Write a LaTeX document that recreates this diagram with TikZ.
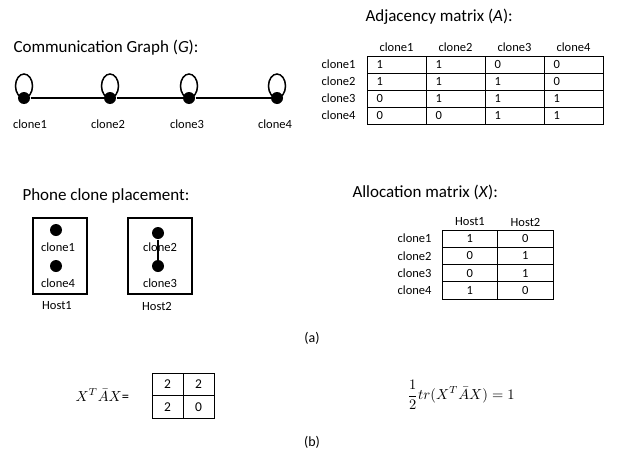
\documentclass[tikz,border=0pt]{standalone}
\usepackage{amsmath}
\usepackage{graphicx}
\usepackage{fontspec}
\setmainfont{Carlito}

\tikzset{
  clonedot/.style={circle,fill=black,inner sep=0pt,minimum size=12pt},
  smalltext/.style={font=\fontsize{12.5}{14}\selectfont,inner sep=0pt},
  heading/.style={font=\fontsize{17}{20}\selectfont,anchor=west,inner sep=0pt},
  mathtext/.style={font=\normalsize,anchor=west,inner sep=0pt},
  adjcell/.style={draw,smalltext,minimum height=17pt,text width=40pt,inner xsep=9.5pt,align=left},
  alloccell/.style={draw,smalltext,minimum width=55.5pt,minimum height=17.25pt},
  prodcell/.style={draw,font=\fontsize{13.5}{15}\selectfont,minimum width=31pt,minimum height=22.5pt,inner sep=0pt},
  hostbox/.style={draw,line width=1.3pt,minimum height=76pt}
}

\begin{document}
\begin{tikzpicture}[x=1pt,y=-1pt,line width=1pt]
\useasboundingbox (0,0) rectangle (618,455);

\node[heading] (gtitle) at (13,48) {Communication Graph (\textit{G}):};
\foreach \i/\x/\lx in {1/24/30,2/110/108,3/189/187,4/277/275} {
  \node[clonedot] (g\i) at (\x,98) {};
  \draw[line width=1.5pt] ([yshift=12pt]g\i.center) ellipse [x radius=8.5, y radius=12];
  \node[smalltext] (gl\i) at (\lx,124) {clone\i};
}
\draw[line width=1.3pt] (g1) -- (g2) -- (g3) -- (g4);

\node[heading] (atitle) at (365,17) {Adjacency matrix (\textit{A}):};
\foreach \c in {1,...,4}
  \node[smalltext] (ah\c) at ({396.5+59*(\c-1)},47) {clone\c};
\foreach [count=\r] \row in {{1,1,0,0},{1,1,1,0},{0,1,1,1},{0,0,1,1}} {
  \node[smalltext,anchor=east] (ar\r) at (356,{56+17*(\r-0.5)}) {clone\r};
  \foreach [count=\c] \v in \row
    \node[adjcell] (a\r\c) at ({396.5+59*(\c-1)},{56+17*(\r-0.5)}) {\v};
}

\node[heading] (ptitle) at (22,196) {Phone clone placement:};
\node[hostbox,minimum width=54pt] (host1) at (60,256) {};
\node[hostbox,minimum width=64pt] (host2) at (160,256) {};
\node[clonedot] (h1a) at (56,230) {};
\node[clonedot] (h1b) at (56,266) {};
\node[clonedot] (h2a) at (158,233) {};
\node[clonedot] (h2b) at (158,266) {};
\node[smalltext] (hl1) at (58,247) {clone1};
\node[smalltext] (hl4) at (58,283) {clone4};
\node[smalltext] (hl2) at (160,247) {clone2};
\node[smalltext] (hl3) at (160,283) {clone3};
\draw[line width=1.4pt] (h2a) -- (h2b);
\node[smalltext] (host1lbl) at (57,306) {Host1};
\node[smalltext] (host2lbl) at (157,306) {Host2};

\node[heading] (xtitle) at (352,192) {Allocation matrix (\textit{X}):};
\node[smalltext] (xh1) at (470,222) {Host1};
\node[smalltext] (xh2) at (525.5,222) {Host2};
\foreach [count=\r] \row in {{1,0},{0,1},{0,1},{1,0}} {
  \node[smalltext,anchor=east] (xr\r) at (432,{230+17.25*(\r-0.5)}) {clone\r};
  \foreach [count=\c] \v in \row
    \node[alloccell] (x\r\c) at ({469.75+55.5*(\c-1)},{230+17.25*(\r-0.5)}) {\v};
}

\node[font=\fontsize{14}{16}\selectfont] (capa) at (312,338) {(a)};

\node[mathtext] (prodlbl) at (75,395) {\scalebox{1.45}{$X^T\bar{A}X$=}};
\foreach [count=\r] \row in {{2,2},{2,0}}
  \foreach [count=\c] \v in \row
    \node[prodcell] (p\r\c) at ({167.5+31*(\c-1)},{384.25+22.5*(\r-1)}) {\v};
\node[mathtext] (trace) at (407,395) {\scalebox{1.45}{$\displaystyle\frac{1}{2}tr(X^T\bar{A}X)=1$}};

\node[font=\fontsize{14}{16}\selectfont] (capb) at (312,442) {(b)};
\end{tikzpicture}
\end{document}
